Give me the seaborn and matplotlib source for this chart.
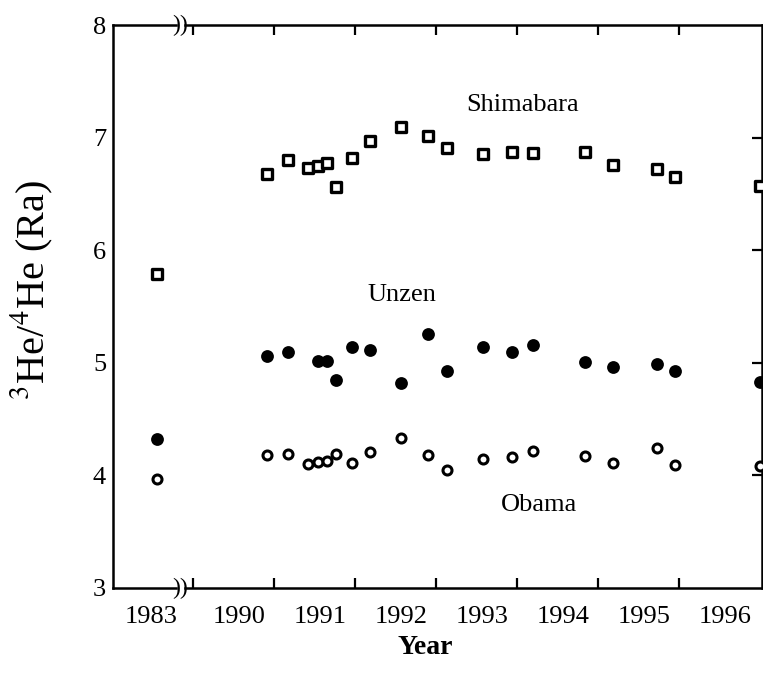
import numpy as np
import pandas as pd
import matplotlib
matplotlib.use("Agg")
import matplotlib.pyplot as plt
import seaborn as sns

# -----------------------------
# Data
# -----------------------------

dates_1983 = [1983.64]
shimabara_1983 = [5.79]
unzen_1983 = [4.32]
obama_1983 = [3.97]

dates = [1990.91, 1991.17, 1991.42, 1991.54, 1991.65, 1991.76, 1991.96,
         1992.18, 1992.57, 1992.90, 1993.13, 1993.58, 1993.93, 1994.19,
         1994.84, 1995.18, 1995.72, 1995.95, 1997.00]

shimabara = [6.68, 6.80, 6.73, 6.75, 6.77, 6.56, 6.82, 6.97, 7.09, 7.01,
             6.91, 6.85, 6.87, 6.86, 6.87, 6.76, 6.72, 6.65, 6.57]

unzen = [5.06, 5.10, np.nan, 5.02, 5.02, 4.85, 5.14, 5.11, 4.82, 5.26,
         4.93, 5.14, 5.10, 5.16, 5.01, 4.96, 4.99, 4.93, 4.83]

obama = [4.18, 4.19, 4.10, 4.12, 4.13, 4.19, 4.11, 4.21, 4.33, 4.18,
         4.05, 4.15, 4.16, 4.22, 4.17, 4.11, 4.24, 4.09, 4.08]

years = [1990, 1991, 1992, 1993, 1994, 1995, 1996]
year_labels = [str(y) for y in years]

df = pd.DataFrame({"date": dates, "Shimabara": shimabara,
                   "Unzen": unzen, "Obama": obama})
df_1983 = pd.DataFrame({"date": dates_1983, "Shimabara": shimabara_1983,
                        "Unzen": unzen_1983, "Obama": obama_1983})

# -----------------------------
# Style
# -----------------------------

sns.set_style("white")
plt.rcParams["font.family"] = ["Liberation Serif", "DejaVu Serif"]
plt.rcParams["mathtext.fontset"] = "stix"
plt.rcParams["text.color"] = "black"
plt.rcParams["xtick.color"] = "black"
plt.rcParams["ytick.color"] = "black"
plt.rcParams["axes.labelcolor"] = "black"

W, H = 763, 680
fig = plt.figure(figsize=(W / 100, H / 100), dpi=100)


def rect(x0, x1, y0, y1):
    return [x0 / W, 1 - y1 / H, (x1 - x0) / W, (y1 - y0) / H]


ax_l = fig.add_axes(rect(113, 176, 25, 588))
ax_r = fig.add_axes(rect(185, 762, 25, 588))

square = dict(marker="s", s=50, facecolor="white", edgecolor="black",
              linewidth=2.4, clip_on=False, zorder=5)
dot = dict(marker="o", s=85, color="black", linewidth=0,
           clip_on=False, zorder=5)
ring = dict(marker="o", s=42, facecolor="white", edgecolor="black",
            linewidth=2.2, clip_on=False, zorder=5)

for ax, d in [(ax_l, df_1983), (ax_r, df)]:
    sns.scatterplot(data=d, x="date", y="Shimabara", ax=ax, **square)
    sns.scatterplot(data=d, x="date", y="Unzen", ax=ax, **dot)
    sns.scatterplot(data=d, x="date", y="Obama", ax=ax, **ring)
    ax.set_ylim(3, 8)
    ax.set_xlabel("")
    ax.set_ylabel("")
    for sp in ax.spines.values():
        sp.set_linewidth(1.8)
        sp.set_color("black")

label_shift = 0.57

# left (1983) panel
ax_l.set_xlim(1983.10, 1983.88)
ax_l.spines["right"].set_visible(False)
ax_l.set_xticks([])
ax_l.set_xticks([1983 + label_shift], ["1983"], minor=True)
ax_l.set_yticks([3, 4, 5, 6, 7, 8])
ax_l.tick_params(axis="y", direction="in", length=7, width=1.6,
                 labelsize=19, pad=5)
ax_l.tick_params(axis="x", which="minor", length=0, labelsize=19, pad=13)

# right (1990-1996) panel
ax_r.set_xlim(1989.90, 1997.02)
ax_r.spines["left"].set_visible(False)
ax_r.set_xticks(years)
ax_r.set_xticklabels([])
ax_r.set_xticks([y + label_shift for y in years], year_labels, minor=True)
ax_r.tick_params(axis="x", which="major", direction="in", length=7,
                 width=1.6, top=True, bottom=True)
ax_r.tick_params(axis="x", which="minor", length=0, labelsize=19, pad=13)
ax_r.set_yticks([4, 5, 6, 7])
ax_r.tick_params(axis="y", direction="in", length=7, width=1.6,
                 left=False, right=True, labelleft=False)

ax_r.text(1994.07, 7.29, "Shimabara", fontsize=19, ha="center", va="center")
ax_r.text(1992.58, 5.60, "Unzen", fontsize=19, ha="center", va="center")
ax_r.text(1994.27, 3.74, "Obama", fontsize=19, ha="center", va="center")

# axis break marks
for yp in (25, 588):
    fig.text(180.5 / W, 1 - yp / H, "))", fontsize=17, ha="center",
             va="center")

fig.text(32 / W, 1 - 290 / H, "$^{3}$He/$^{4}$He (Ra)", rotation=90,
         fontsize=29, ha="center", va="center")
fig.text(425 / W, 1 - 648 / H, "Year", fontsize=20, fontweight="bold",
         ha="center", va="center")

plt.savefig("out.png", dpi=100)
plt.close()
